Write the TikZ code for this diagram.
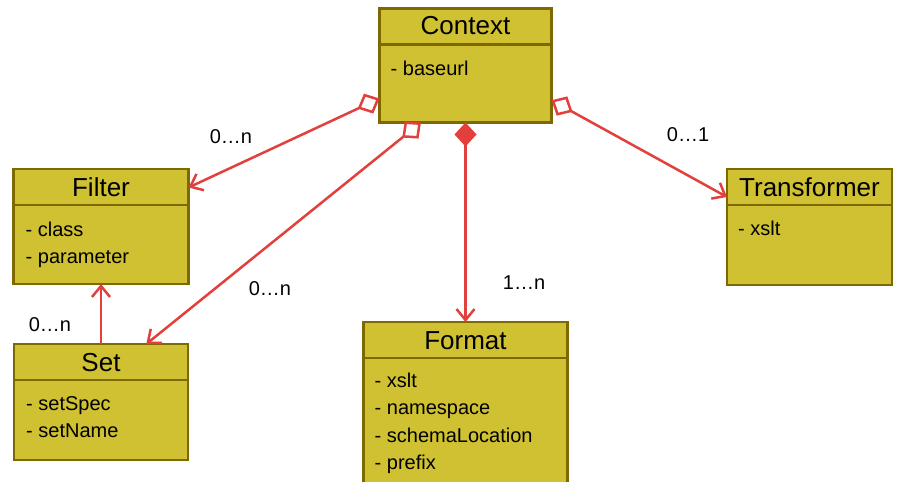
\documentclass[tikz,border=0pt]{standalone}
\usepackage{fontspec}
\setmainfont{Liberation Sans}
\usetikzlibrary{arrows.meta}

\definecolor{classfill}{RGB}{207,193,50}
\definecolor{classline}{RGB}{125,105,0}
\definecolor{linkred}{RGB}{226,64,60}

\begin{document}
\begin{tikzpicture}[x=1pt, y=-1pt, >={Straight Barb[length=11pt,width=18pt]}]
\tikzstyle{umlclass}=[rectangle, draw=classline, fill=classfill, line width=2.5pt, outer sep=0pt]
\tikzstyle{classname}=[anchor=base, inner sep=0pt, font=\fontsize{26}{30}\selectfont]
\tikzstyle{attrlist}=[anchor=base west, inner sep=0pt, align=left, font=\fontsize{20}{27.6}\selectfont]
\tikzstyle{mult}=[anchor=base, inner sep=0pt, font=\fontsize{20}{24}\selectfont]
\tikzstyle{assoc}=[draw=linkred, line width=2.5pt]
\tikzstyle{aggr}=[assoc, {Diamond[fill=white,length=24pt,width=22pt]}->]
\useasboundingbox (0,0) rectangle (903,482);

% class boxes
\node[umlclass, minimum width=172pt, minimum height=114pt] (context) at (465.5,65.5) {};
\node[umlclass, minimum width=175pt, minimum height=115pt] (filter) at (101,226.5) {};
\node[umlclass, minimum width=174pt, minimum height=116pt] (set) at (101,402) {};
\node[umlclass, minimum width=204pt, minimum height=180pt] (format) at (465.5,412) {};
\node[umlclass, minimum width=165pt, minimum height=116pt] (transformer) at (809.5,227) {};

% name compartments
\foreach \c in {context,filter,set,format,transformer}
  \draw[classline, line width=2.5pt] ([yshift=-36pt]\c.north west) -- ([yshift=-36pt]\c.north east);

\node[classname] at ([yshift=-26pt]context.north) {Context};
\node[classname] at ([yshift=-27pt]filter.north) {Filter};
\node[classname] at ([yshift=-27pt]set.north) {Set};
\node[classname] at ([yshift=-27pt]format.north) {Format};
\node[classname] at ([yshift=-27pt]transformer.north) {Transformer};

% attributes (base anchor sits on the last line)
\node[attrlist] at ([xshift=11pt,yshift=-67pt]context.north west) {- baseurl};
\node[attrlist] at ([xshift=12pt,yshift=-94.6pt]filter.north west) {- class\\- parameter};
\node[attrlist] at ([xshift=12pt,yshift=-93.6pt]set.north west) {- setSpec\\- setName};
\node[attrlist] at ([xshift=11pt,yshift=-147.8pt]format.north west) {- xslt\\- namespace\\- schemaLocation\\- prefix};
\node[attrlist] at ([xshift=11pt,yshift=-66pt]transformer.north west) {- xslt};

% associations
\draw[aggr] (context.201.6) -- (filter.24.3);
\draw[aggr] (context.232.6) -- (set.52.8);
\draw[assoc, {Diamond[length=24pt,width=22pt]}->] (context.south) -- (format.north);
\draw[aggr] (context.338.4) -- (transformer.160);
\draw[assoc, ->] (set.north) -- (filter.south);

% multiplicities
\node[mult] at (231,143) {0…n};
\node[mult] at (270,295) {0…n};
\node[mult] at (524,289) {1…n};
\node[mult] at (688,141) {0…1};
\node[mult] at (50,331) {0…n};
\end{tikzpicture}
\end{document}
